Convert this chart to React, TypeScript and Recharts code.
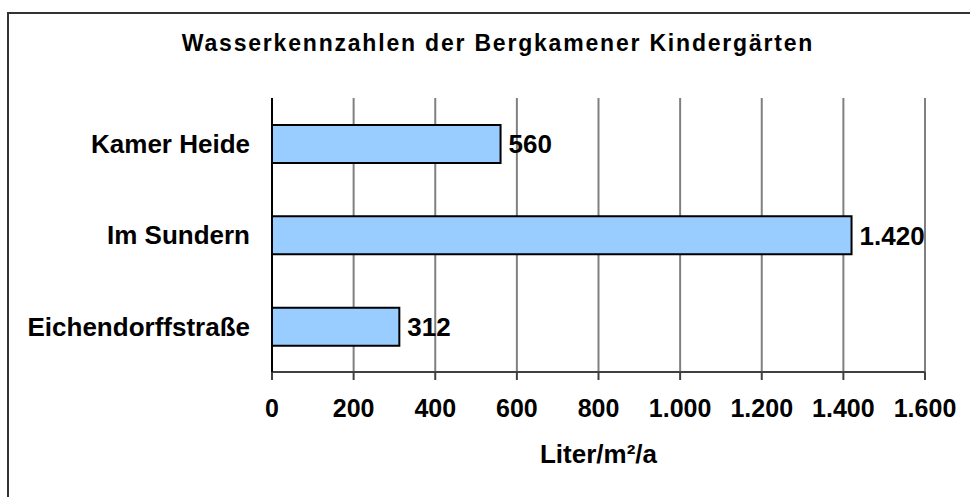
import { BarChart, Bar, XAxis, YAxis, CartesianGrid, LabelList, ReferenceLine, Label } from 'recharts';

const kindergaerten = ['Kamer Heide', 'Im Sundern', 'Eichendorffstraße'];
const literProM2 = [560, 1420, 312];
const xTicks = [0, 200, 400, 600, 800, 1000, 1200, 1400, 1600];
const bandEdges = [0, 1, 2, 3];

const data = kindergaerten.map((name, i) => ({ name, value: literProM2[i] }));

const FONT = '"Liberation Sans", Arial, sans-serif';
const fmt = (v: any) => Number(v).toLocaleString('de-DE');

export default function App() {
  return (
    <div style={{ position: 'fixed', left: 0, top: 0, width: 970, height: 497, overflow: 'hidden', background: '#fff', fontFamily: FONT }}>
      {/* outer frame, only top and left edges are inside the picture */}
      <div style={{ position: 'absolute', left: 7, top: 12, width: 1000, height: 600, border: '2px solid #333' }} />
      <div
        style={{
          position: 'absolute', left: 0, top: 31, width: 996, textAlign: 'center',
          fontSize: 23, fontWeight: 'bold', letterSpacing: 1.8, color: '#000', lineHeight: '24px',
        }}
      >
        Wasserkennzahlen der Bergkamener Kindergärten
      </div>
      <div style={{ position: 'absolute', left: 0, top: 0 }}>
        <BarChart
          width={970}
          height={497}
          data={data}
          layout="vertical"
          margin={{ top: 98, right: 45, left: 0, bottom: 0 }}
        >
          <CartesianGrid horizontal={false} stroke="#808080" strokeWidth={2} />
          <XAxis
            type="number"
            domain={[0, 1600]}
            ticks={xTicks}
            interval={0}
            height={125}
            tickFormatter={fmt}
            tickSize={8}
            tickMargin={19}
            axisLine={{ stroke: '#404040', strokeWidth: 2 }}
            tickLine={{ stroke: '#404040', strokeWidth: 2 }}
            tick={{ fill: '#000', fontSize: 25, fontWeight: 'bold', fontFamily: FONT }}
          >
            <Label
              value="Liter/m²/a"
              position="insideBottom"
              offset={34}
              style={{ fill: '#000', fontSize: 26, fontWeight: 'bold', fontFamily: FONT }}
            />
          </XAxis>
          <YAxis
            yAxisId="cat"
            type="category"
            dataKey="name"
            width={272}
            tickLine={false}
            tickSize={8}
            tickMargin={14}
            axisLine={{ stroke: '#000', strokeWidth: 2 }}
            tick={{ fill: '#000', fontSize: 26, fontWeight: 'bold', fontFamily: FONT }}
          />
          <YAxis
            yAxisId="edge"
            type="number"
            domain={[0, 3]}
            ticks={bandEdges}
            interval={0}
            width={0}
            axisLine={false}
            tickSize={8}
            tickFormatter={() => ''}
            tickLine={{ stroke: '#555', strokeWidth: 2 }}
          />
          <ReferenceLine yAxisId="edge" y={3} stroke="#808080" strokeWidth={2} />
          <Bar
            yAxisId="cat"
            dataKey="value"
            barSize={38}
            fill="#99CCFF"
            stroke="#000"
            strokeWidth={2}
            isAnimationActive={false}
          >
            <LabelList
              dataKey="value"
              position="right"
              offset={8}
              formatter={fmt}
              style={{ fill: '#000', fontSize: 26, fontWeight: 'bold', fontFamily: FONT }}
            />
          </Bar>
        </BarChart>
      </div>
    </div>
  );
}
